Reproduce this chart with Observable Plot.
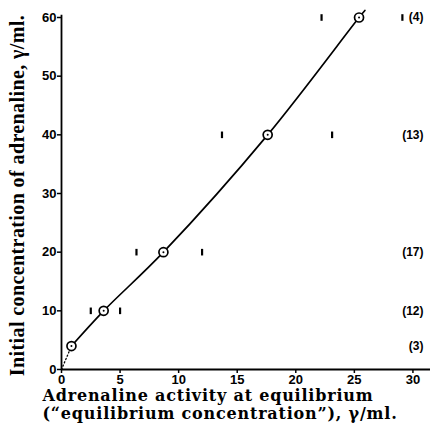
<!DOCTYPE html>
<html><head><meta charset="utf-8">
<script src="https://cdn.jsdelivr.net/npm/d3@7"></script>
<script src="https://cdn.jsdelivr.net/npm/@observablehq/plot@0.6"></script>
<style>body{margin:0;background:#fff} .xtitle text{letter-spacing:0.8px} .ytitle text{letter-spacing:0.4px}</style>
</head><body><div id="chart"></div>
<script>
// Measured points: equilibrium activity (x) vs initial concentration (y)
const initialConc = [4, 10, 20, 40, 60];
const equilibriumActivity = [0.85, 3.6, 8.7, 17.6, 25.4];
const nExperiments = ["(3)", "(12)", "(17)", "(13)", "(4)"];
// Range markers (lowest / highest single estimates) at each level
const rangeLevels = [10, 20, 40, 60];
const rangeLow = [2.5, 6.4, 13.7, 22.2];
const rangeHigh = [5.0, 12.0, 23.1, 29.1];
// Drawn curve through the points (solid) and extrapolation to origin (dotted)
const curveX = [0.85, 3.6, 8.7, 17.6, 25.4, 25.9];
const curveY = [4, 10, 20, 40, 60, 61.2];
const extrapX = [0, 0.85];
const extrapY = [0, 4];
const xTicks = [0, 5, 10, 15, 20, 25, 30];
const yTicks = [0, 10, 20, 30, 40, 50, 60];
const xTitle = "Adrenaline activity at equilibrium\n(“equilibrium concentration”), γ/ml.";
const yTitle = "Initial concentration of adrenaline, γ/ml.";

const points = initialConc.map((y, i) => ({x: equilibriumActivity[i], y, n: nExperiments[i]}));
const ranges = rangeLevels.map((y, i) => ({y, low: rangeLow[i], high: rangeHigh[i]}));
const curve = curveX.map((x, i) => ({x, y: curveY[i]}));
const extrap = extrapX.map((x, i) => ({x, y: extrapY[i]}));

const vbar = {draw(ctx, size) { const h = Math.sqrt(size / Math.PI); ctx.moveTo(0, -h); ctx.lineTo(0, h); }};

const chart = Plot.plot({
  width: 436, height: 433,
  marginLeft: 61, marginRight: 6, marginTop: 17, marginBottom: 64,
  x: {domain: [0, 31.5]},
  y: {domain: [0, 60]},
  style: {fontFamily: "Liberation Sans", fontSize: "13px", fontWeight: "bold", color: "#000", background: "#fff"},
  marks: [
    Plot.axisX({ticks: xTicks, tickSize: 4, tickPadding: 1, label: null, strokeWidth: 1.5}),
    Plot.axisY({ticks: yTicks, tickSize: 4, tickPadding: 1, label: null, strokeWidth: 1.5}),
    Plot.ruleY([0], {strokeWidth: 1.8}),
    Plot.ruleX([0], {y1: 0, y2: 60.4, strokeWidth: 1.8}),
    Plot.line(extrap, {x: "x", y: "y", strokeDasharray: "1.2,2.4", strokeWidth: 1.3}),
    Plot.line(curve, {x: "x", y: "y", curve: "catmull-rom", strokeWidth: 1.7}),
    Plot.dot(ranges, {x: "low", y: "y", symbol: vbar, r: 3.3, stroke: "black", strokeWidth: 2.2}),
    Plot.dot(ranges, {x: "high", y: "y", symbol: vbar, r: 3.3, stroke: "black", strokeWidth: 2.2}),
    Plot.dot(points, {x: "x", y: "y", r: 4.5, fill: "white", stroke: "black", strokeWidth: 1.7}),
    Plot.dot(points, {x: "x", y: "y", r: 1, fill: "black"}),
    Plot.text(points, {y: "y", text: "n", frameAnchor: "right", dx: -7, fontFamily: "Liberation Sans", fontSize: 12, fontWeight: "bold"}),
    Plot.text([yTitle], {text: d => d, frameAnchor: "left", dx: -44, dy: 2, rotate: -90, textAnchor: "middle", fontFamily: "Liberation Serif", fontSize: 20, fontWeight: "bold", className: "ytitle"}),
    Plot.text([xTitle], {text: d => d, frameAnchor: "bottom-left", dx: -19, dy: 18, lineAnchor: "top", textAnchor: "start", fontFamily: "DejaVu Serif", fontSize: 16, fontWeight: "bold", lineHeight: 1.15, className: "xtitle"})
  ]
});
document.getElementById("chart").append(chart);
</script>
</body></html>
